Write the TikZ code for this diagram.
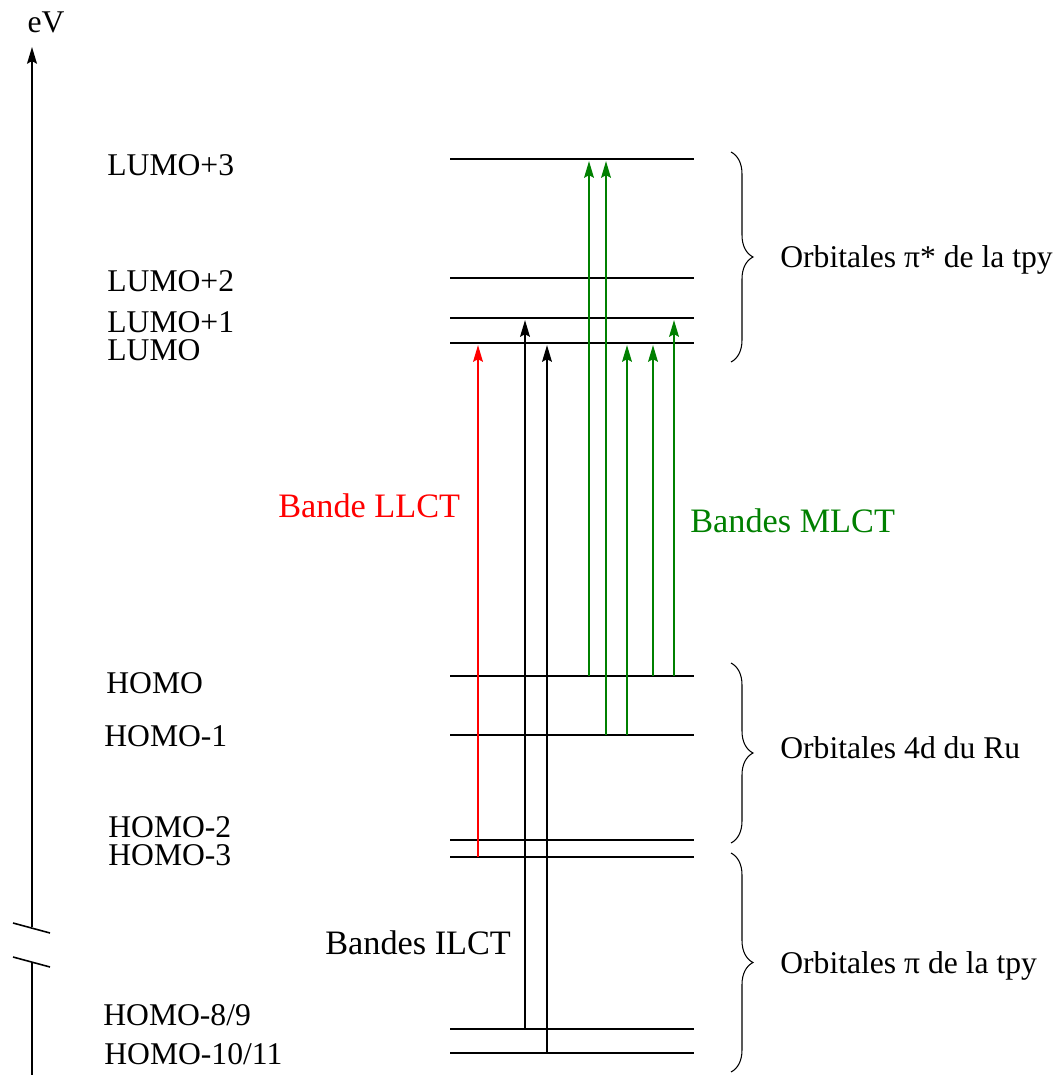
\documentclass[tikz,border=0pt]{standalone}
\usepackage{fontspec}
\setmainfont{Liberation Serif}
\usetikzlibrary{arrows.meta,decorations.pathreplacing}

\tikzset{
  niveau/.style={line width=1pt},
  pointe/.style={-{Stealth[length=9.5pt,width=5.6pt,inset=1.5pt]}},
  trans/.style={line width=0.85pt, pointe, shorten >=1.2pt},
  lab/.style={anchor=base west, inner sep=0pt, font=\fontsize{18}{21}\selectfont},
  bande/.style={lab, font=\fontsize{19.5}{23}\selectfont},
  accol/.style={decorate, decoration={brace, amplitude=0.44cm}, line width=0.6pt},
}

\begin{document}
\begin{tikzpicture}[x=0.02cm, y=-0.02cm]
  \useasboundingbox (0,0) rectangle (1058,1075);

  % 縦軸（エネルギー）
  \coordinate (axbot) at (32,1075);
  \coordinate (brklo) at (32,962);
  \coordinate (brkhi) at (32,927);
  \coordinate (axtop) at (32,47);
  \draw[line width=1.1pt] (axbot) -- (brklo);
  \draw[line width=1.1pt, pointe] (brkhi) -- (axtop);
  \draw[line width=0.9pt] (13,923) -- (50,933);
  \draw[line width=0.9pt] (13,957) -- (50,967);
  \node[lab, anchor=center] (ev) at (46,22) {eV};

  % 準位
  \foreach \nom/\y in {lumoC/159, lumoB/278, lumoA/318, lumo/343,
                       homo/676, homoA/735, homoB/840, homoC/857,
                       homoHN/1029, homoDO/1053}
    \draw[niveau] (450,\y) coordinate (\nom) -- (694,\y);

  % 準位の名前
  \node[lab] (tlumoC) at (107,175) {LUMO+3};
  \node[lab] (tlumoB) at (107,291) {LUMO+2};
  \node[lab] (tlumoA) at (107,332) {LUMO+1};
  \node[lab] (tlumo)  at (107,360) {LUMO};
  \node[lab] (thomo)  at (106,693) {HOMO};
  \node[lab] (thomoA) at (104,746) {HOMO-1};
  \node[lab] (thomoB) at (108,837) {HOMO-2};
  \node[lab] (thomoC) at (108,865) {HOMO-3};
  \node[lab] (thomoHN) at (103,1025) {HOMO-8/9};
  \node[lab] (thomoDO) at (104,1064) {HOMO-10/11};

  % 遷移 LLCT
  \draw[trans, red] (478,0 |- homoC) -- (478,0 |- lumo);

  % 遷移 ILCT
  \draw[trans] (525,0 |- homoHN) -- (525,0 |- lumoA);
  \draw[trans] (547,0 |- homoDO) -- (547,0 |- lumo);

  % 遷移 MLCT
  \draw[trans, green!50!black] (589,0 |- homo) -- (589,0 |- lumoC);
  \draw[trans, green!50!black] (606,0 |- homoA) -- (606,0 |- lumoC);
  \draw[trans, green!50!black] (627,0 |- homoA) -- (627,0 |- lumo);
  \draw[trans, green!50!black] (653,0 |- homo) -- (653,0 |- lumo);
  \draw[trans, green!50!black] (674,0 |- homo) -- (674,0 |- lumoA);

  % ラベル
  \node[bande, red] (llct) at (278,517) {Bande LLCT};
  \node[bande, green!50!black] (mlct) at (690,532) {Bandes MLCT};
  \node[bande] (ilct) at (325,954) {Bandes ILCT};

  % 括弧
  \draw[accol] (731,152) -- (731,362);
  \node[lab] (pistar) at (780,267) {Orbitales π* de la tpy};
  \draw[accol] (731,663) -- (731,843);
  \node[lab] (ru) at (780,758) {Orbitales 4d du Ru};
  \draw[accol] (731,853) -- (731,1072);
  \node[lab] (pi) at (780,973) {Orbitales π de la tpy};
\end{tikzpicture}
\end{document}
